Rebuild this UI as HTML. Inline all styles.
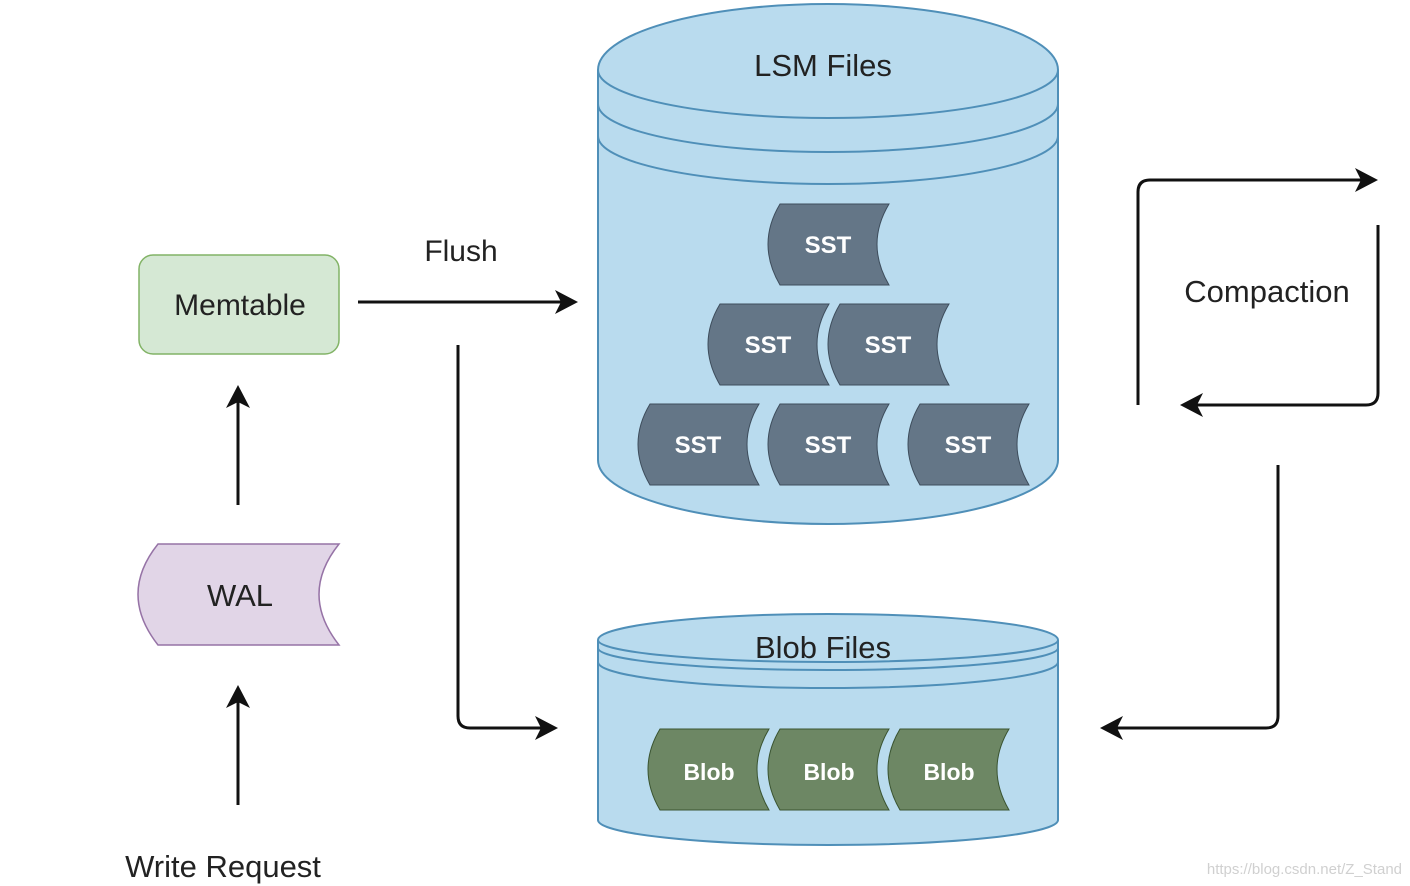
<!DOCTYPE html>
<html><head><meta charset="utf-8"><style>
html,body{margin:0;padding:0;background:#fff;width:1410px;height:886px;overflow:hidden}
text{font-family:"Liberation Sans",sans-serif}
</style></head><body>
<svg width="1410" height="886" viewBox="0 0 1410 886" xmlns="http://www.w3.org/2000/svg">
<!-- LSM cylinder -->
<g stroke="#4f8fb8" stroke-width="2" fill="#b9dbee">
<path d="M598,70 A230,66 0 0 1 1058,70 L1058,460 A230,64 0 0 1 598,460 Z"/>
<path d="M598,70 A230,48 0 0 0 1058,70" fill="none"/>
<path d="M598,104 A230,48 0 0 0 1058,104" fill="none"/>
<path d="M598,136 A230,48 0 0 0 1058,136" fill="none"/>
</g>
<text x="823" y="76" font-size="31" text-anchor="middle" fill="#222">LSM Files</text>
<!-- Blob cylinder -->
<g stroke="#4f8fb8" stroke-width="2" fill="#b9dbee">
<path d="M598,640 A230,26 0 0 1 1058,640 L1058,820 A230,25 0 0 1 598,820 Z"/>
<path d="M598,640 A230,22 0 0 0 1058,640" fill="none"/>
<path d="M598,648 A230,22 0 0 0 1058,648" fill="none"/>
<path d="M598,662 A230,26 0 0 0 1058,662" fill="none"/>
</g>
<text x="823" y="658" font-size="31" text-anchor="middle" fill="#222">Blob Files</text>
<!-- SSTs -->
<g fill="#647687" stroke="#3e4d5c" stroke-width="1">
<path d="M780,204 L889,204 Q865,244 889,285 L780,285 Q756,244 780,204 Z"/>
<path d="M720,304 L829,304 Q805,344 829,385 L720,385 Q696,344 720,304 Z"/>
<path d="M840,304 L949,304 Q925,344 949,385 L840,385 Q816,344 840,304 Z"/>
<path d="M650,404 L759,404 Q735,444 759,485 L650,485 Q626,444 650,404 Z"/>
<path d="M780,404 L889,404 Q865,444 889,485 L780,485 Q756,444 780,404 Z"/>
<path d="M920,404 L1029,404 Q1005,444 1029,485 L920,485 Q896,444 920,404 Z"/>
</g>
<g fill="#fff" font-size="24" text-anchor="middle" font-weight="bold">
<text x="828" y="253">SST</text>
<text x="768" y="353">SST</text>
<text x="888" y="353">SST</text>
<text x="698" y="453">SST</text>
<text x="828" y="453">SST</text>
<text x="968" y="453">SST</text>
</g>
<!-- Blobs -->
<g fill="#6d8764" stroke="#3a5431" stroke-width="1">
<path d="M660,729 L769,729 Q745,769 769,810 L660,810 Q636,769 660,729 Z"/>
<path d="M780,729 L889,729 Q865,769 889,810 L780,810 Q756,769 780,729 Z"/>
<path d="M900,729 L1009,729 Q985,769 1009,810 L900,810 Q876,769 900,729 Z"/>
</g>
<g fill="#fff" font-size="23" text-anchor="middle" font-weight="bold">
<text x="709" y="780">Blob</text>
<text x="829" y="780">Blob</text>
<text x="949" y="780">Blob</text>
</g>
<!-- Memtable -->
<rect x="139" y="255" width="200" height="99" rx="14" fill="#d5e8d4" stroke="#82b366" stroke-width="1.5"/>
<text x="240" y="315" font-size="30" text-anchor="middle" fill="#222">Memtable</text>
<!-- WAL -->
<path d="M158,544 L339,544 Q299,594 339,645 L158,645 Q118,594 158,544 Z" fill="#e1d5e7" stroke="#9673a6" stroke-width="1.5"/>
<text x="240" y="606" font-size="31" text-anchor="middle" fill="#222">WAL</text>
<!-- connectors -->
<g stroke="#111" stroke-width="3" fill="none">
<path d="M238,805 L238,700"/>
<path d="M238,505 L238,400"/>
<path d="M358,302 L562,302"/>
<path d="M458,345 L458,716 Q458,728 470,728 L542,728"/>
<path d="M1138,405 L1138,192 Q1138,180 1150,180 L1362,180"/>
<path d="M1378,225 L1378,393 Q1378,405 1366,405 L1196,405"/>
<path d="M1278,465 L1278,716 Q1278,728 1266,728 L1116,728"/>
</g>
<g fill="#111">
<path d="M238,685 L226,708 L238,702 L250,708 Z"/>
<path d="M238,385 L226,408 L238,402 L250,408 Z"/>
<path d="M578,302 L555,290 L561,302 L555,314 Z"/>
<path d="M558,728 L535,716 L541,728 L535,740 Z"/>
<path d="M1378,180 L1355,168 L1361,180 L1355,192 Z"/>
<path d="M1180,405 L1203,393 L1197,405 L1203,417 Z"/>
<path d="M1100,728 L1123,716 L1117,728 L1123,740 Z"/>
</g>
<text x="461" y="261" font-size="30" text-anchor="middle" fill="#222">Flush</text>
<text x="1267" y="302" font-size="31" text-anchor="middle" fill="#222">Compaction</text>
<text x="223" y="877" font-size="31" text-anchor="middle" fill="#222">Write Request</text>
<text x="1402" y="874" font-size="15" text-anchor="end" fill="#d0d0d0">https://blog.csdn.net/Z_Stand</text>
</svg>
</body></html>
